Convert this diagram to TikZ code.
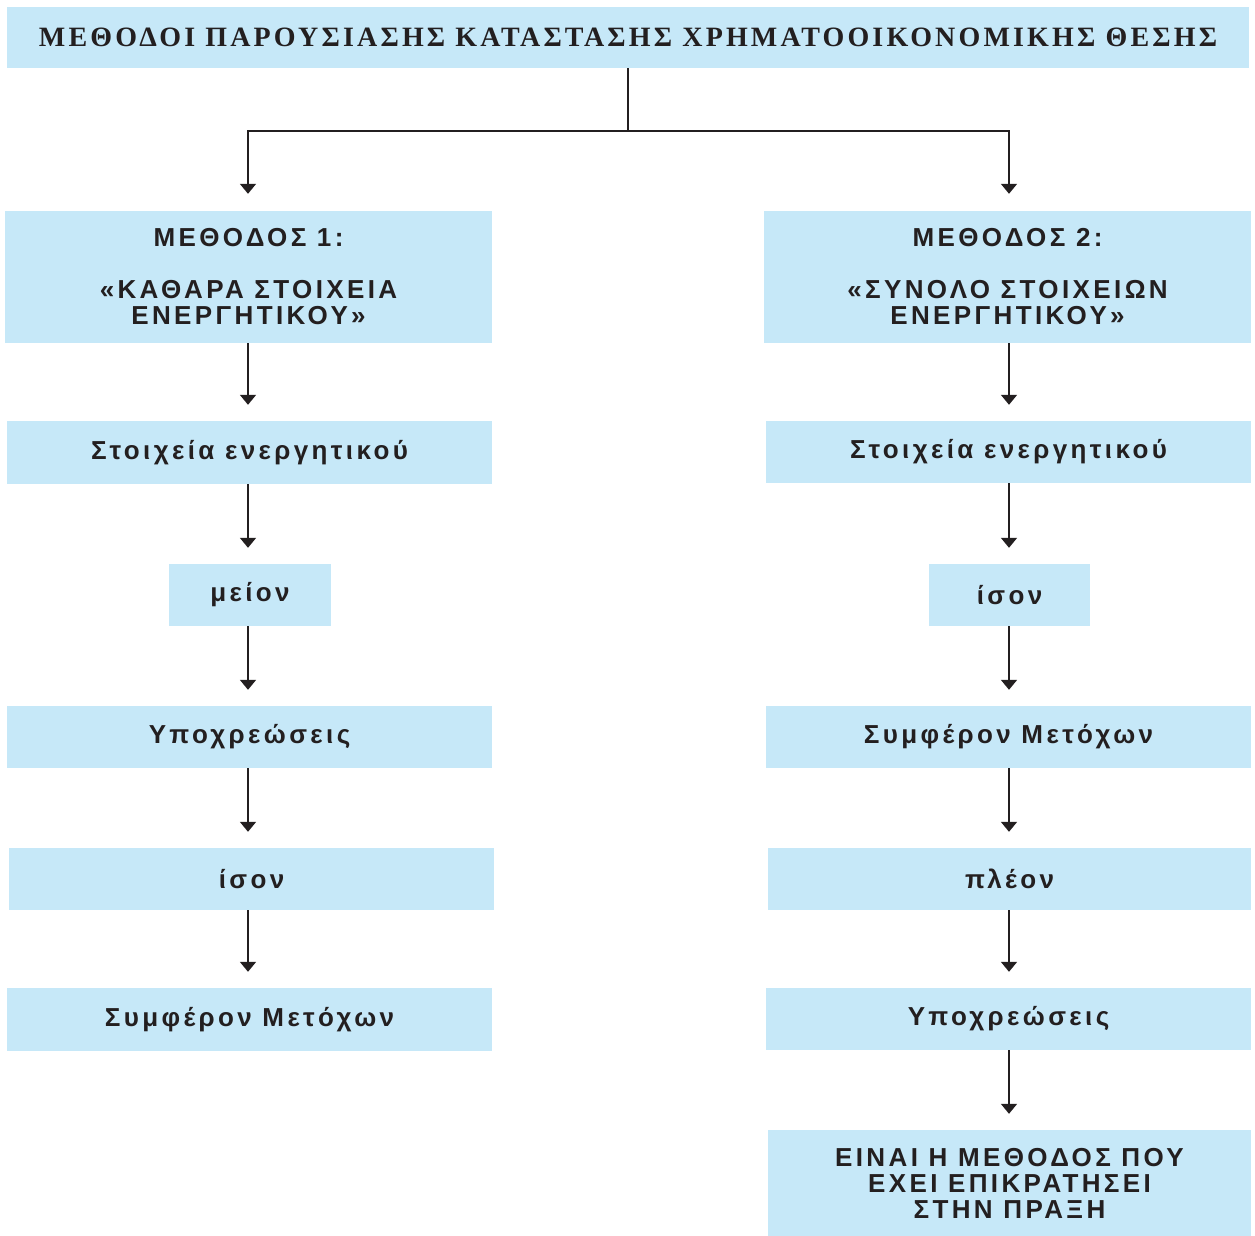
\documentclass[tikz,border=0pt]{standalone}
\usepackage{fontspec}
\setmainfont{Liberation Serif}
\newfontfamily\titlefont[LetterSpace=11.3]{Liberation Serif}
\newfontfamily\boxfont[LetterSpace=13]{Liberation Sans}
\usetikzlibrary{arrows.meta}
\definecolor{boxblue}{HTML}{C6E8F8}
\definecolor{ink}{HTML}{231F20}
\begin{document}
\begin{tikzpicture}[x=1pt,y=-1pt,
  box/.style={fill=boxblue,draw=none,inner sep=0pt,align=center,text=ink,
    font=\boxfont\bfseries\fontsize{26}{26}\selectfont},
  wide/.style={box,minimum width=485pt,minimum height=62pt},
  small/.style={box,minimum width=162pt,minimum height=62pt},
  arr/.style={draw=ink,line width=1.8pt,-{Triangle[width=16pt,length=10pt]}},
  link/.style={draw=ink,line width=1.8pt}]
\useasboundingbox (0,0) rectangle (1255,1236);

% heading
\node[box,minimum width=1242pt,minimum height=61pt,
  font=\titlefont\bfseries\fontsize{28}{30}\selectfont] (title) at (628,37.5)
  {ΜΕΘΟΔΟΙ ΠΑΡΟΥΣΙΑΣΗΣ ΚΑΤΑΣΤΑΣΗΣ ΧΡΗΜΑΤΟΟΙΚΟΝΟΜΙΚΗΣ ΘΕΣΗΣ};

% method 1
\node[wide,minimum width=487pt,minimum height=132pt] (L1) at (248.5,277)
  {ΜΕΘΟΔΟΣ 1:\\[26pt]«ΚΑΘΑΡΑ ΣΤΟΙΧΕΙΑ\\ΕΝΕΡΓΗΤΙΚΟΥ»};
\node[wide,minimum height=63pt] (L2) at (249.5,452.5) {Στοιχεία ενεργητικού};
\node[small] (L3) at (250,595) {μείον};
\node[wide] (L4) at (249.5,737) {Υποχρεώσεις};
\node[wide] (L5) at (251.5,879) {ίσον};
\node[wide,minimum height=63pt] (L6) at (249.5,1019.5) {Συμφέρον Μετόχων};

% method 2
\node[wide,minimum width=487pt,minimum height=132pt] (R1) at (1007.5,277)
  {ΜΕΘΟΔΟΣ 2:\\[26pt]«ΣΥΝΟΛΟ ΣΤΟΙΧΕΙΩΝ\\ΕΝΕΡΓΗΤΙΚΟΥ»};
\node[wide] (R2) at (1008.5,452) {Στοιχεία ενεργητικού};
\node[small,minimum width=161pt] (R3) at (1009.5,595) {ίσον};
\node[wide] (R4) at (1008.5,737) {Συμφέρον Μετόχων};
\node[wide,minimum width=483pt] (R5) at (1009.5,879) {πλέον};
\node[wide] (R6) at (1008.5,1019) {Υποχρεώσεις};
\node[wide,minimum width=483pt,minimum height=106pt] (R7) at (1009.5,1183)
  {ΕΙΝΑΙ Η ΜΕΘΟΔΟΣ ΠΟΥ\\ΕΧΕΙ ΕΠΙΚΡΑΤΗΣΕΙ\\ΣΤΗΝ ΠΡΑΞΗ};

% branching from the heading
\coordinate (split) at (628,131);
\coordinate (lcol) at (248,0);
\coordinate (rcol) at (1009,0);
\draw[link] (title.south -| split) -- (split);
\draw[arr] (split) -| ([yshift=17pt]L1.north -| lcol);
\draw[arr] (split) -| ([yshift=17pt]R1.north -| rcol);

% left chain
\foreach \a/\b in {L1/L2,L2/L3,L3/L4,L4/L5,L5/L6}
  \draw[arr] (\a.south -| lcol) -- ([yshift=16pt]\b.north -| lcol);
% right chain
\foreach \a/\b in {R1/R2,R2/R3,R3/R4,R4/R5,R5/R6,R6/R7}
  \draw[arr] (\a.south -| rcol) -- ([yshift=16pt]\b.north -| rcol);
\end{tikzpicture}
\end{document}
